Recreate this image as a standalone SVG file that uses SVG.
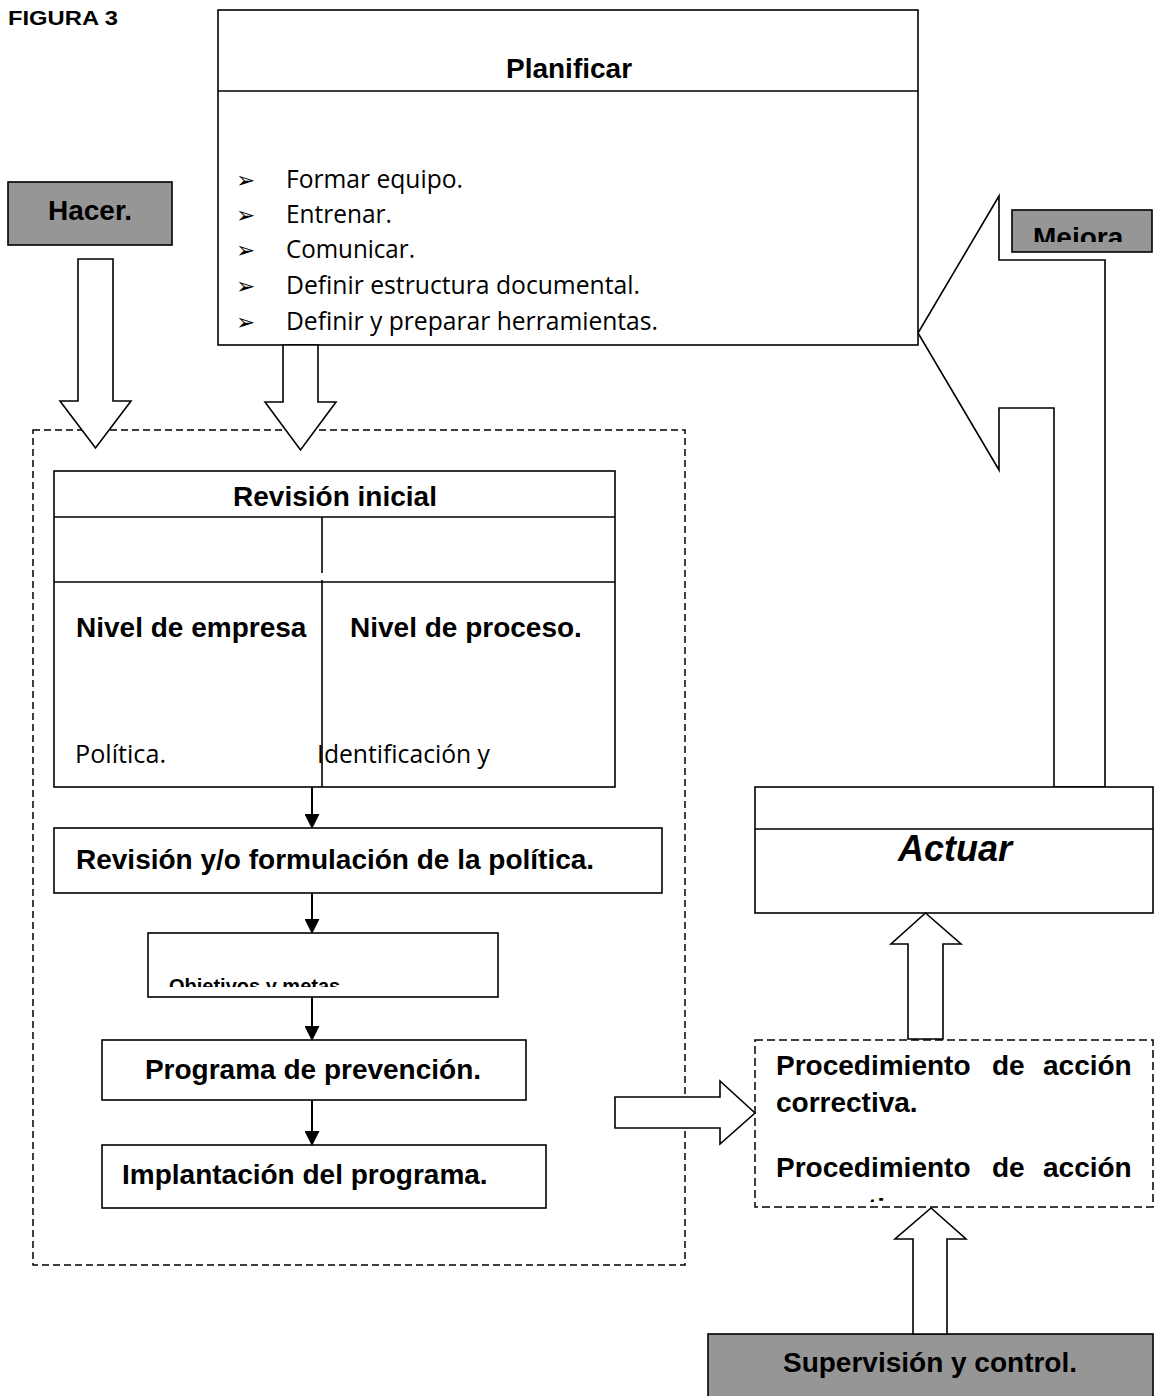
<svg xmlns="http://www.w3.org/2000/svg" width="1158" height="1396" viewBox="0 0 1158 1396">
<style>
.box{fill:#fff;stroke:#000;stroke-width:1.6}
.gray{fill:#969696;stroke:#000;stroke-width:1.6}
.dash{fill:none;stroke:#000;stroke-width:1.5;stroke-dasharray:7 4}
.blk{fill:#fff;stroke:#000;stroke-width:1.6;stroke-linejoin:miter}
.ln{fill:none;stroke:#000;stroke-width:1.6}
.con{fill:none;stroke:#000;stroke-width:2}
.b{font-family:"Liberation Sans",Arial,sans-serif;font-weight:bold;font-size:28px;fill:#000}
.c{font-family:"Open Sans","Noto Sans",sans-serif;font-size:25px;fill:#000}
.bul{font-family:"DejaVu Sans",sans-serif;font-size:23px;fill:#000}
</style>
<defs>
<marker id="ah" markerUnits="userSpaceOnUse" markerWidth="15" markerHeight="15" refX="12" refY="7.5" orient="auto" viewBox="0 0 15 15">
<path d="M0,0 L15,7.5 L0,15 z" fill="#000"/>
</marker>
<clipPath id="clipObj"><rect x="148" y="933" width="350" height="54"/></clipPath>
<clipPath id="clipMej"><rect x="1012" y="210" width="140" height="32"/></clipPath>
<clipPath id="clipProc"><rect x="755" y="1040" width="398" height="162"/></clipPath>
</defs>

<g id="titulo">
<text x="8" y="25" font-family="'Liberation Sans',Arial,sans-serif" font-weight="bold" font-size="21" textLength="110" lengthAdjust="spacingAndGlyphs">FIGURA 3</text>
</g>

<g id="contenedor-hacer">
<rect class="dash" x="33" y="430" width="652" height="835"/>
</g>

<g id="mejora-flecha">
<polygon class="blk" points="1054,787 1054,408 999,408 999,470 918,333 999,196 999,260 1105,260 1105,787"/>
</g>

<g id="planificar">
<rect class="box" x="218" y="10" width="700" height="335"/>
<line class="ln" x1="218" y1="91" x2="918" y2="91"/>
<text class="b" x="569" y="78" text-anchor="middle">Planificar</text>
<text class="bul" x="236" y="188">➢</text>
<text class="bul" x="236" y="223">➢</text>
<text class="bul" x="236" y="258">➢</text>
<text class="bul" x="236" y="294">➢</text>
<text class="bul" x="236" y="330">➢</text>
<text class="c" x="286" y="188" textLength="177" lengthAdjust="spacingAndGlyphs">Formar equipo.</text>
<text class="c" x="286" y="223" textLength="106" lengthAdjust="spacingAndGlyphs">Entrenar.</text>
<text class="c" x="286" y="258" textLength="129" lengthAdjust="spacingAndGlyphs">Comunicar.</text>
<text class="c" x="286" y="294" textLength="354" lengthAdjust="spacingAndGlyphs">Definir estructura documental.</text>
<text class="c" x="286" y="330" textLength="372" lengthAdjust="spacingAndGlyphs">Definir y preparar herramientas.</text>
</g>

<g id="hacer">
<rect class="gray" x="8" y="182" width="164" height="63"/>
<text class="b" x="90" y="220" text-anchor="middle">Hacer.</text>
</g>

<g id="mejora">
<rect class="gray" x="1012" y="210" width="140" height="42"/>
<text class="b" x="1033" y="247" clip-path="url(#clipMej)">Mejora</text>
</g>

<g id="revision-inicial">
<rect class="box" x="54" y="471" width="561" height="316"/>
<line class="ln" x1="54" y1="517" x2="615" y2="517"/>
<line class="ln" x1="54" y1="582" x2="615" y2="582"/>
<line class="ln" x1="322" y1="517" x2="322" y2="573"/>
<line class="ln" x1="322" y1="580" x2="322" y2="787"/>
<text class="b" x="335" y="506" text-anchor="middle">Revisión inicial</text>
<text class="b" x="76" y="637">Nivel de empresa</text>
<text class="b" x="350" y="637">Nivel de proceso.</text>
<text class="c" x="75" y="763" textLength="91" lengthAdjust="spacingAndGlyphs">Política.</text>
<text class="c" x="317" y="763" textLength="173" lengthAdjust="spacingAndGlyphs">Identificación y</text>
</g>

<g id="revision-politica">
<rect class="box" x="54" y="828" width="608" height="65"/>
<text class="b" x="76" y="869">Revisión y/o formulación de la política.</text>
</g>

<g id="objetivos">
<rect class="box" x="148" y="933" width="350" height="64"/>
<text class="b" x="169" y="993" style="font-size:20px" clip-path="url(#clipObj)">Objetivos y metas</text>
</g>

<g id="programa">
<rect class="box" x="102" y="1040" width="424" height="60"/>
<text class="b" x="313" y="1079" text-anchor="middle">Programa de prevención.</text>
</g>

<g id="implantacion">
<rect class="box" x="102" y="1145" width="444" height="63"/>
<text class="b" x="122" y="1184">Implantación del programa.</text>
</g>

<g id="actuar">
<rect class="box" x="755" y="787" width="398" height="126"/>
<line class="ln" x1="755" y1="829" x2="1153" y2="829"/>
<text class="b" x="955" y="861" text-anchor="middle" style="font-size:36px;font-style:italic">Actuar</text>
</g>

<g id="procedimiento">
<rect x="755" y="1040" width="398" height="167" fill="#fff" stroke="#000" stroke-width="1.5" stroke-dasharray="8 4"/>
<text class="b"><tspan x="776" y="1075">Procedimiento</tspan><tspan x="992" y="1075">de</tspan><tspan x="1043" y="1075">acción</tspan></text>
<text class="b" x="776" y="1112">correctiva.</text>
<text class="b"><tspan x="776" y="1177">Procedimiento</tspan><tspan x="992" y="1177">de</tspan><tspan x="1043" y="1177">acción</tspan></text>
<text class="b" x="776" y="1218" clip-path="url(#clipProc)">preventiva.</text>
</g>

<g id="supervision">
<rect class="gray" x="708" y="1334" width="445" height="70"/>
<text class="b" x="930" y="1372" text-anchor="middle">Supervisión y control.</text>
</g>

<g id="conectores">
<polygon class="blk" points="78,259 113,259 113,401 131,401 95.5,448 60,401 78,401"/>
<polygon class="blk" points="283,345 318,345 318,402 336,402 300.5,450 265,402 283,402"/>
<polygon class="blk" points="615,1097 720,1097 720,1081 755,1113 720,1144 720,1128 615,1128"/>
<polygon class="blk" points="908,1039 908,944 891,944 925.5,913 961,944 943,944 943,1039"/>
<polygon class="blk" points="913,1334 913,1239 895,1239 931,1208 966,1239 947,1239 947,1334"/>
<line class="con" x1="312" y1="787" x2="312" y2="826" marker-end="url(#ah)"/>
<line class="con" x1="312" y1="893" x2="312" y2="931" marker-end="url(#ah)"/>
<line class="con" x1="312" y1="997" x2="312" y2="1038" marker-end="url(#ah)"/>
<line class="con" x1="312" y1="1100" x2="312" y2="1143" marker-end="url(#ah)"/>
</g>
</svg>
